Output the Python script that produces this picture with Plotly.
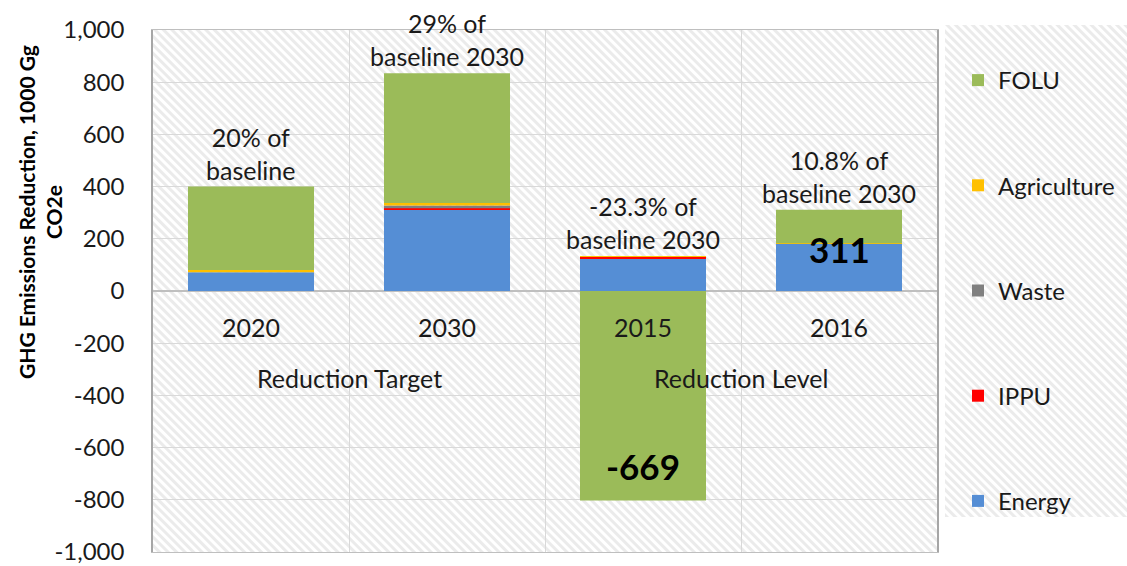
import base64
import plotly.graph_objects as go

# Categories and sector values (1000 Gg CO2e)
categories = ["2020", "2030", "2015", "2016"]
energy = [72, 314, 124, 182]
ippu = [0, 3, 7, 0]
waste = [0, 11, 0, 0]
agriculture = [8, 9, 3, 1]
folu = [320, 497, -803, 128]

share_labels = ["20% of<br>baseline", "29% of<br>baseline 2030",
                "-23.3% of<br>baseline 2030", "10.8% of<br>baseline 2030"]
group_labels = ["Reduction Target", "Reduction Level"]

y_ticks = [1000, 800, 600, 400, 200, 0, -200, -400, -600, -800, -1000]
y_ticktext = ["1,000", "800", "600", "400", "200", "0", "-200", "-400",
              "-600", "-800", "-1,000"]

FONT = "Lato"
TXT = "#1a1a1a"

# stacking order bottom-up; legend rank puts FOLU on top
series = [
    ("Energy", energy, "#558ed5", 5),
    ("IPPU", ippu, "#ff0000", 4),
    ("Waste", waste, "#808080", 3),
    ("Agriculture", agriculture, "#ffc000", 2),
    ("FOLU", folu, "#9bbb59", 1),
]

fig = go.Figure()
for name, vals, color, rank in series:
    fig.add_trace(go.Bar(
        x=categories, y=vals, name=name, legendgroup=name, legendrank=rank,
        marker=dict(color=color, line=dict(width=0)),
    ))

# stacked totals
n = len(categories)
totals = [sum(s[1][i] for s in series) for i in range(n)]
pos_tops = [sum(max(s[1][i], 0) for s in series) for i in range(n)]


def stripes(w, h):
    svg = (
        f'<svg xmlns="http://www.w3.org/2000/svg" width="{w}" height="{h}" '
        f'viewBox="0 0 {w} {h}">'
        '<defs><pattern id="p" width="6" height="6" patternUnits="userSpaceOnUse" '
        'patternTransform="rotate(-45)">'
        '<rect width="6" height="6" fill="#ffffff"/>'
        '<rect width="3" height="6" fill="#ebebeb"/></pattern></defs>'
        f'<rect width="{w}" height="{h}" fill="url(#p)"/></svg>'
    )
    return "data:image/svg+xml;base64," + base64.b64encode(svg.encode()).decode()


W, H = 1127, 566
L, R, T, B = 153, 190, 30, 14
pw, ph = W - L - R, H - T - B


def px_x(p):
    return (p - L) / pw


def px_y(p):
    return (H - B - p) / ph


images = [
    dict(source=stripes(pw, ph), xref="paper", yref="paper", x=0, y=1,
         sizex=1, sizey=1, sizing="stretch", layer="below",
         xanchor="left", yanchor="top"),
    dict(source=stripes(1127 - 945, 517 - 25), xref="paper", yref="paper",
         x=px_x(945), y=px_y(25), sizex=px_x(1127) - px_x(945),
         sizey=px_y(25) - px_y(517), sizing="stretch", layer="below",
         xanchor="left", yanchor="top"),
]

txt_font = dict(family=FONT, size=25, color=TXT)
annotations = []
for i, cat in enumerate(categories):
    annotations.append(dict(
        x=i, y=pos_tops[i], xref="x", yref="y", text=share_labels[i],
        showarrow=False, xanchor="center", yanchor="bottom", yshift=0,
        font=txt_font))
    annotations.append(dict(
        x=i, y=-137, xref="x", yref="y", text=cat, showarrow=False,
        xanchor="center", yanchor="middle", font=txt_font))

annotations.append(dict(x=0.5, y=-334, xref="x", yref="y", text=group_labels[0],
                        showarrow=False, xanchor="center", font=txt_font))
annotations.append(dict(x=2.5, y=-334, xref="x", yref="y", text=group_labels[1],
                        showarrow=False, xanchor="center", font=txt_font))

# net totals for the measured years
big = dict(family=FONT, size=35, color="#000000")
annotations.append(dict(x=2, y=totals[2], xref="x", yref="y",
                        text=f"<b>{totals[2]}</b>", showarrow=False,
                        xanchor="center", yanchor="middle", font=big))
annotations.append(dict(x=3, y=160, xref="x", yref="y",
                        text=f"<b>{totals[3]}</b>", showarrow=False,
                        xanchor="center", yanchor="middle", font=big))

# axis title
annotations.append(dict(
    x=px_x(40), y=px_y(212), xref="paper", yref="paper",
    xanchor="center", yanchor="middle",
    text="<b>GHG Emissions Reduction, 1000 Gg<br>CO2e</b>", textangle=-90,
    showarrow=False, font=dict(family=FONT, size=21, color="#000000")))

fig.update_layout(
    width=W, height=H,
    margin=dict(l=L, r=R, t=T, b=B, autoexpand=False),
    barmode="relative", bargap=0.357,
    paper_bgcolor="#ffffff", plot_bgcolor="rgba(0,0,0,0)",
    font=dict(family=FONT, size=24, color=TXT),
    images=images,
    annotations=annotations,
    showlegend=True,
    legend=dict(
        x=px_x(958), y=px_y(58), xanchor="left", yanchor="top",
        traceorder="grouped", tracegroupgap=71,
        bgcolor="rgba(0,0,0,0)", font=dict(family=FONT, size=24, color=TXT),
        itemwidth=30,
    ),
    xaxis=dict(
        type="category", categoryorder="array", categoryarray=categories,
        range=[-0.5, 3.5], tickson="boundaries", showgrid=True,
        gridcolor="#d9d9d9", gridwidth=1, showticklabels=False, ticks="",
        showline=True, linecolor="#bfbfbf", linewidth=1, mirror=True,
        zeroline=False,
    ),
    yaxis=dict(
        range=[-1000, 1000], tickvals=y_ticks, ticktext=y_ticktext,
        showgrid=True, gridcolor="#d9d9d9", gridwidth=1,
        zeroline=True, zerolinecolor="#bfbfbf", zerolinewidth=1.5,
        showline=True, linecolor="#a6a6a6", linewidth=1.5, mirror=True,
        ticks="", ticklabelstandoff=22, ticklabeloverflow="allow",
        tickfont=dict(family=FONT, size=24, color=TXT),
    ),
)

fig.write_html("out.html")
